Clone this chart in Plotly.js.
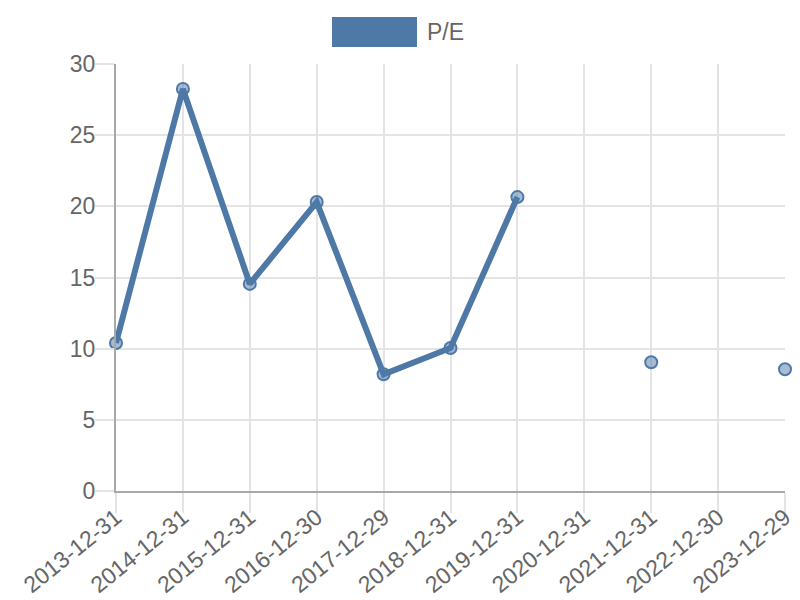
<!DOCTYPE html>
<html>
<head>
<meta charset="utf-8">
<script src="https://cdn.plot.ly/plotly-3.0.1.min.js"></script>
<style>html,body{margin:0;padding:0;background:#fff;}#chart{width:800px;height:600px;}</style>
</head>
<body>
<div id="chart"></div>
<script>
const dates = ["2013-12-31","2014-12-31","2015-12-31","2016-12-30","2017-12-29","2018-12-31","2019-12-31","2020-12-31","2021-12-31","2022-12-30","2023-12-29"];
const peValues = [10.4, 28.25, 14.55, 20.3, 8.2, 10.05, 20.65, null, 9.05, null, 8.55];
const seriesName = "P/E";
const yTicks = [0, 5, 10, 15, 20, 25, 30];

const color = "#4e79a7";
const trace = {
  x: dates,
  y: peValues,
  type: "scatter",
  mode: "lines+markers",
  name: seriesName,
  connectgaps: false,
  cliponaxis: false,
  line: {color: color, width: 6},
  marker: {size: 12, color: "rgba(78,121,167,0.5)", line: {color: color, width: 2}},
  showlegend: false
};

const plotL = 116, plotR = 785, plotT = 64, plotB = 491;
const pw = plotR - plotL, ph = plotB - plotT;

const layout = {
  width: 800, height: 600,
  margin: {l: plotL, r: 800 - plotR, t: plotT, b: 600 - plotB},
  paper_bgcolor: "#fff", plot_bgcolor: "#fff",
  font: {family: "Liberation Sans, Arial, sans-serif", size: 23, color: "#666"},
  xaxis: {
    type: "category",
    range: [0, dates.length - 1],
    tickangle: -39,
    showgrid: true, gridcolor: "#e4e4e4", gridwidth: 2,
    ticks: "outside", ticklen: 20, tickcolor: "#e4e4e4", tickwidth: 2,
    ticklabelstandoff: -18,
    showline: true, linecolor: "#a8a8a8", linewidth: 2,
    zeroline: false,
    tickfont: {size: 23, color: "#666"}
  },
  yaxis: {
    range: [0, 30],
    tickvals: yTicks,
    showgrid: true, gridcolor: "#e4e4e4", gridwidth: 2,
    ticks: "outside", ticklen: 19, tickcolor: "#e4e4e4", tickwidth: 2,
    ticklabelstandoff: -5,
    showline: true, linecolor: "#a8a8a8", linewidth: 2,
    zeroline: false,
    tickfont: {size: 23, color: "#666"}
  },
  shapes: [{
    type: "rect", xref: "paper", yref: "paper",
    x0: (332 - plotL) / pw, x1: (417 - plotL) / pw,
    y0: (plotB - 47) / ph, y1: (plotB - 17) / ph,
    fillcolor: color, line: {width: 0}
  }],
  annotations: [{
    xref: "paper", yref: "paper",
    x: (425 - plotL) / pw, y: (plotB - 32) / ph,
    xanchor: "left", yanchor: "middle",
    text: seriesName, showarrow: false,
    font: {size: 23, color: "#666"}
  }]
};

Plotly.newPlot("chart", [trace], layout, {displayModeBar: false, staticPlot: true});
</script>
</body>
</html>
